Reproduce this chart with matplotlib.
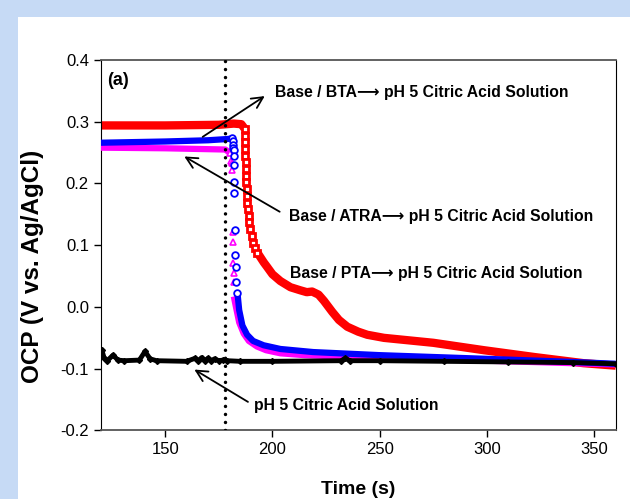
import matplotlib
matplotlib.use("Agg")
import matplotlib.pyplot as plt
from matplotlib.patches import Rectangle

plt.rcParams['font.family'] = ['Liberation Sans', 'DejaVu Sans']

# Base / PTA (red): flat part, sparse drop markers, tail
red_flat_t = [120, 150, 175, 182, 185.5, 187.0]
red_flat_v = [0.294, 0.294, 0.295, 0.297, 0.296, 0.289]
red_drop_t = [187.0, 187.1, 187.2, 187.3, 187.4, 187.5, 187.6, 187.7, 187.9, 188.0, 188.1, 188.2,
              188.5, 188.9, 189.3, 189.7, 190.3, 191.0, 192.0, 193.0]
red_drop_v = [0.289, 0.277, 0.267, 0.256, 0.245, 0.234, 0.223, 0.212, 0.202, 0.191, 0.180, 0.169,
              0.158, 0.147, 0.137, 0.126, 0.115, 0.104, 0.095, 0.088]
red_tail_t = [193.0, 194.5, 196, 197.5, 200, 203.7, 208.4, 213, 216, 218.5, 221.5, 224, 227.9,
              231, 234.9, 240, 244.2, 252, 275, 298.6, 322, 345, 360]
red_tail_v = [0.088, 0.080, 0.072, 0.065, 0.053, 0.042, 0.032, 0.027, 0.024, 0.025, 0.020, 0.010,
              -0.008, -0.021, -0.032, -0.040, -0.045, -0.050, -0.058, -0.070, -0.081, -0.091, -0.095]

# Base / BTA (blue)
blue_flat_t = [120, 150, 170, 179, 181.2]
blue_flat_v = [0.266, 0.268, 0.270, 0.272, 0.273]
blue_drop_t = [181.2, 181.4, 181.6, 181.8, 182.0, 182.2, 182.3, 182.3, 182.3, 182.7, 182.6, 183.0, 183.2, 183.7]
blue_drop_v = [0.273, 0.268, 0.262, 0.258, 0.254, 0.244, 0.230, 0.203, 0.185, 0.125, 0.084, 0.065, 0.041, 0.023]
blue_tail_t = [183.7, 184.5, 186, 188.2, 191, 195.9, 203.7, 219, 250, 300, 340, 360]
blue_tail_v = [0.023, -0.005, -0.030, -0.045, -0.055, -0.062, -0.068, -0.073, -0.078, -0.084, -0.089, -0.092]

# Base / ATRA (magenta)
mag_flat_t = [120, 150, 178, 180.4]
mag_flat_v = [0.258, 0.257, 0.255, 0.249]
mag_drop_t = [180.4, 180.7, 181.0, 181.2, 181.5, 181.5, 181.7, 181.9, 181.9]
mag_drop_v = [0.249, 0.236, 0.233, 0.222, 0.122, 0.106, 0.071, 0.055, 0.041]
mag_tail_t = [182, 183, 184.5, 186.6, 189, 192.8, 197, 203.7, 215, 230, 280, 330, 360]
mag_tail_v = [0.017, 0.000, -0.025, -0.043, -0.055, -0.064, -0.070, -0.075, -0.078, -0.080, -0.085, -0.090, -0.093]

# pH 5 citric acid solution (black)
blk_t = [120, 120.5, 121.5, 123, 125.7, 128, 131, 138, 140.6, 143, 146, 160, 164, 165.5, 167,
         168.5, 170, 171.5, 173, 175, 177, 179, 185, 200, 232, 234, 236, 250, 280, 310, 340, 360]
blk_v = [-0.080, -0.070, -0.082, -0.087, -0.078, -0.086, -0.087, -0.086, -0.072, -0.084, -0.087,
         -0.088, -0.083, -0.087, -0.082, -0.087, -0.083, -0.087, -0.084, -0.087, -0.086, -0.087,
         -0.088, -0.088, -0.087, -0.083, -0.087, -0.087, -0.088, -0.089, -0.090, -0.092]

switch_t = 178
xticks = [150, 200, 250, 300, 350]
yticks = [-0.2, -0.1, 0.0, 0.1, 0.2, 0.3, 0.4]

fig = plt.figure(figsize=(6.3, 4.99), dpi=100)
fig.patch.set_facecolor('#c6daf5')
fig.patches.append(Rectangle((18 / 630, 0), 1, 1 - 17 / 499, transform=fig.transFigure,
                             facecolor='white', edgecolor='none', zorder=-10))
ax = fig.add_axes([0.16, 0.1373, 0.8173, 0.7425])

lkw = dict(solid_capstyle='butt', solid_joinstyle='round')
ax.plot(red_flat_t, red_flat_v, color='red', lw=6, zorder=2, **lkw)
ax.plot(red_tail_t, red_tail_v, color='red', lw=6, zorder=2, **lkw)
ax.plot(red_drop_t, red_drop_v, 's', ms=4.6, mfc='white', mec='red', mew=2.0, zorder=2)

ax.plot(mag_flat_t, mag_flat_v, color='#ff00ff', lw=4.5, zorder=3, **lkw)
ax.plot(mag_tail_t, mag_tail_v, color='#ff00ff', lw=4.5, zorder=3, **lkw)
ax.plot(mag_drop_t, mag_drop_v, '^', ms=4.5, mfc='white', mec='#ff00ff', mew=1.2, zorder=3)

ax.plot(blue_flat_t, blue_flat_v, color='#0000ff', lw=4.5, zorder=4, **lkw)
ax.plot(blue_tail_t, blue_tail_v, color='#0000ff', lw=4.5, zorder=4, **lkw)
ax.plot(blue_drop_t, blue_drop_v, 'o', ms=4.8, mfc='white', mec='#0000ff', mew=1.3, zorder=4)

ax.plot(blk_t, blk_v, color='black', lw=3.5, marker='D', ms=3, zorder=5, **lkw)

ax.axvline(switch_t, color='black', lw=2.5, linestyle=(0, (0.01, 2.3)),
           dash_capstyle='round', zorder=6)

tkw = dict(fontsize=11.3, fontweight='bold', va='center', ha='left')
akw = dict(arrowstyle='->', lw=1.3, color='black', mutation_scale=20)
arr = '\u27f6'
ax.annotate('', xy=(197.5, 0.344), xytext=(166.4, 0.273), arrowprops=akw, zorder=7)
ax.text(201.4, 0.348, 'Base / BTA' + arr + ' pH 5 Citric Acid Solution', **tkw)
ax.annotate('', xy=(157.8, 0.246), xytext=(204.5, 0.152), arrowprops=akw, zorder=7)
ax.text(207.9, 0.146, 'Base / ATRA' + arr + ' pH 5 Citric Acid Solution', **tkw)
ax.text(208.4, 0.055, 'Base / PTA' + arr + ' pH 5 Citric Acid Solution', **tkw)
ax.annotate('', xy=(162.5, -0.099), xytext=(189.7, -0.156), arrowprops=akw, zorder=7)
ax.text(191.3, -0.160, 'pH 5 Citric Acid Solution', **tkw)
ax.text(122.9, 0.366, '(a)', fontsize=13, fontweight='bold', va='center', ha='left')

ax.set_xlim(120, 360)
ax.set_ylim(-0.2, 0.4)
ax.set_xticks(xticks)
ax.set_yticks(yticks)
ax.set_yticklabels(['%.1f' % v for v in yticks])
ax.tick_params(direction='out', length=5, width=1, labelsize=12, top=False, right=False)
ax.set_xlabel('Time (s)', fontsize=14, fontweight='bold', labelpad=17)
ax.set_ylabel('OCP (V vs. Ag/AgCl)', fontsize=17.5, fontweight='bold')
ax.yaxis.set_label_coords(-0.11, 0.443)
for s in ['top', 'bottom']:
    ax.spines[s].set_color('#555555')
    ax.spines[s].set_linewidth(1.3)

fig.savefig('out.png', dpi=100, facecolor=fig.get_facecolor())
